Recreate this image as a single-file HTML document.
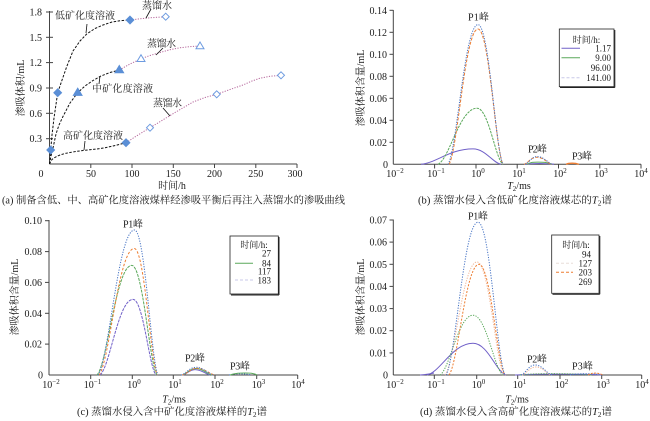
<!DOCTYPE html>
<html><head><meta charset="utf-8">
<style>
html,body{margin:0;padding:0;background:#fff;}
svg{display:block;}
text{font-family:"Liberation Serif","Noto Serif CJK SC",serif;fill:#1a1a1a;}
</style></head>
<body>
<svg width="650" height="421" viewBox="0 0 650 421" xmlns="http://www.w3.org/2000/svg">
<rect width="650" height="421" fill="#fff"/>

<!-- ================= PANEL A ================= -->
<g stroke="#444" stroke-width="1" fill="none">
  <line x1="49.5" y1="11" x2="49.5" y2="164"/>
  <line x1="49.5" y1="164" x2="297" y2="164"/>
  <!-- y ticks -->
  <line x1="46" y1="12" x2="53" y2="12"/>
  <line x1="46" y1="37.3" x2="53" y2="37.3"/>
  <line x1="46" y1="62.6" x2="53" y2="62.6"/>
  <line x1="46" y1="88" x2="53" y2="88"/>
  <line x1="46" y1="113.3" x2="53" y2="113.3"/>
  <line x1="46" y1="138.7" x2="53" y2="138.7"/>
  <!-- x ticks -->
  <line x1="90.8" y1="164" x2="90.8" y2="168"/>
  <line x1="132" y1="164" x2="132" y2="168"/>
  <line x1="173.3" y1="164" x2="173.3" y2="168"/>
  <line x1="214.5" y1="164" x2="214.5" y2="168"/>
  <line x1="255.8" y1="164" x2="255.8" y2="168"/>
  <line x1="297" y1="164" x2="297" y2="168"/>
</g>
<g font-size="10" text-anchor="end">
  <text x="42" y="15.5">1.8</text>
  <text x="42" y="40.8">1.5</text>
  <text x="42" y="66.1">1.2</text>
  <text x="42" y="91.5">0.9</text>
  <text x="42" y="116.8">0.6</text>
  <text x="42" y="142.2">0.3</text>
</g>
<g font-size="10" text-anchor="middle">
  <text x="41" y="177">0</text>
  <text x="91" y="177">50</text>
  <text x="132" y="177">100</text>
  <text x="173.3" y="177">150</text>
  <text x="214.5" y="177">200</text>
  <text x="255.8" y="177">250</text>
  <text x="295" y="177">300</text>
  <text x="172" y="189">时间/h</text>
</g>
<text font-size="10" text-anchor="middle" transform="translate(24,88) rotate(-90)">渗吸体积/mL</text>

<!-- curves a -->
<g fill="none" stroke="#111" stroke-width="1" stroke-dasharray="2.5 1.5">
  <polyline points="49.5,164 50.2,157 50.7,150 52,135 54,118 57.7,92.7 61.7,81 66.7,66.7 73,51 80,41 86.7,34 95,28.5 103,25 112,22 120,20.7 130,20"/>
  <polyline points="49.5,164 51,156 53,148 56,134 59,125 62.7,117 70,103 77.7,92.7 85,86 93,80.5 101,76 110,72.5 119.3,70"/>
  <polyline points="49.5,164 50.5,162 52,159.5 54,158 57,156.3 60,155 65,153.5 70,152.5 77,151.3 83,150.5 90,149.7 97,149 105,147.8 113,146 120,144.3 126,142.7"/>
</g>
<g fill="none" stroke="#b5679b" stroke-width="1" stroke-dasharray="1.2 1.4">
  <polyline points="130,20 140,18.8 150,17.8 165.7,16.7"/>
  <polyline points="119.3,70 130,64 141,58.7 150,55.5 160,52.5 170,49.7 180,47.8 190,46.6 200,46"/>
  <polyline points="126,142.7 138,135 150,127.7 160,121.7 175,112.5 193,102 205,97.5 216.7,94.3 230,89.5 243,85 252,81 260,78.2 270,76.3 281,75.3"/>
</g>
<!-- markers a -->
<g fill="#5b8fd6" stroke="#5b8fd6" stroke-width="0.8">
  <polygon points="50.7,146 54.7,150 50.7,154 46.7,150"/>
  <polygon points="57.7,88.7 61.7,92.7 57.7,96.7 53.7,92.7"/>
  <polygon points="130,16 134,20 130,24 126,20"/>
  <polygon points="126,138.7 130,142.7 126,146.7 122,142.7"/>
  <polygon points="77.7,88 82.2,95.5 73.2,95.5"/>
  <polygon points="119.3,65.3 123.8,72.8 114.8,72.8"/>
</g>
<g fill="#fff" stroke="#6d9be0" stroke-width="1">
  <polygon points="165.7,13.2 169.2,16.7 165.7,20.2 162.2,16.7"/>
  <polygon points="141,54.7 145,61.5 137,61.5"/>
  <polygon points="200,42 204,48.8 196,48.8"/>
  <polygon points="150,124.2 153.5,127.7 150,131.2 146.5,127.7"/>
  <polygon points="216.7,90.8 220.2,94.3 216.7,97.8 213.2,94.3"/>
  <polygon points="281,71.8 284.5,75.3 281,78.8 277.5,75.3"/>
</g>
<!-- leaders a -->
<g stroke="#111" stroke-width="0.8">
  <line x1="87" y1="24" x2="86" y2="33"/>
  <line x1="151" y1="9" x2="146" y2="18"/>
  <line x1="163" y1="48" x2="156" y2="55"/>
  <line x1="100" y1="76" x2="99" y2="84"/>
  <line x1="163" y1="108" x2="170" y2="116"/>
  <line x1="85" y1="141" x2="84" y2="150"/>
</g>
<g font-size="10">
  <text x="55" y="19" textLength="60">低矿化度溶液</text>
  <text x="142" y="9" textLength="30">蒸馏水</text>
  <text x="147" y="47" textLength="29">蒸馏水</text>
  <text x="92" y="92" textLength="61">中矿化度溶液</text>
  <text x="153" y="106.5" textLength="29">蒸馏水</text>
  <text x="63" y="139" textLength="60">高矿化度溶液</text>
</g>
<text font-size="10.3" x="2" y="203.5" textLength="343" lengthAdjust="spacingAndGlyphs">(a) 制备含低、中、高矿化度溶液煤样经渗吸平衡后再注入蒸馏水的渗吸曲线</text>

<!-- ================= PANEL B ================= -->
<g stroke="#444" stroke-width="1" fill="none">
  <line x1="393.3" y1="10" x2="393.3" y2="164.3"/>
  <line x1="393.3" y1="164.3" x2="641" y2="164.3"/>
  <line x1="389.5" y1="10.3" x2="393.3" y2="10.3"/>
  <line x1="389.5" y1="32.3" x2="393.3" y2="32.3"/>
  <line x1="389.5" y1="54.3" x2="393.3" y2="54.3"/>
  <line x1="389.5" y1="76.3" x2="393.3" y2="76.3"/>
  <line x1="389.5" y1="98.3" x2="393.3" y2="98.3"/>
  <line x1="389.5" y1="120.3" x2="393.3" y2="120.3"/>
  <line x1="389.5" y1="142.3" x2="393.3" y2="142.3"/>
  <line x1="434.6" y1="164.3" x2="434.6" y2="168.5"/>
  <line x1="476" y1="164.3" x2="476" y2="168.5"/>
  <line x1="517.2" y1="164.3" x2="517.2" y2="168.5"/>
  <line x1="558.5" y1="164.3" x2="558.5" y2="168.5"/>
  <line x1="599.8" y1="164.3" x2="599.8" y2="168.5"/>
  <line x1="641" y1="164.3" x2="641" y2="168.5"/>
</g>
<g font-size="10" text-anchor="end">
  <text x="387" y="13.8">0.14</text>
  <text x="387" y="35.8">0.12</text>
  <text x="387" y="57.8">0.10</text>
  <text x="387" y="79.8">0.08</text>
  <text x="387" y="101.8">0.06</text>
  <text x="387" y="123.8">0.04</text>
  <text x="387" y="145.8">0.02</text>
  <text x="388" y="167.8">0</text>
</g>
<g font-size="10" text-anchor="middle">
  <text x="395" y="177">10<tspan font-size="7" dy="-4">−2</tspan></text>
  <text x="436" y="177">10<tspan font-size="7" dy="-4">−1</tspan></text>
  <text x="478" y="177">10<tspan font-size="7" dy="-4">0</tspan></text>
  <text x="519" y="177">10<tspan font-size="7" dy="-4">1</tspan></text>
  <text x="560" y="177">10<tspan font-size="7" dy="-4">2</tspan></text>
  <text x="601" y="177">10<tspan font-size="7" dy="-4">3</tspan></text>
  <text x="641" y="177">10<tspan font-size="7" dy="-4">4</tspan></text>
  <text x="519" y="189"><tspan font-style="italic">T</tspan><tspan font-size="7" dy="2">2</tspan><tspan dy="-2">/ms</tspan></text>
</g>
<text font-size="10" text-anchor="middle" transform="translate(364,88) rotate(-90)">渗吸体积含量/mL</text>
<g fill="none" stroke-width="1">
  <path d="M421,164.3 C436.6,162.8 449.6,148.9 473,148.9 C485.6,148.9 492.6,162.8 501,164.3" stroke="#7060c8"/>
  <path d="M438,164.3 C449.7,158.7 459.5,108.2 477,108.2 C488.7,108.2 495.2,158.7 503,164.3" stroke="#5aa85a" stroke-dasharray="2.5 1"/>
  <path d="M449,164.3 C457.7,150.8 465,29 478,29 C489.3,29 495.5,150.8 503,164.3" stroke="#ed7d31" stroke-dasharray="3 1.5"/>
  <path d="M448,164.3 C457,150.3 464.5,24.6 478,24.6 C489.3,24.6 495.5,150.3 503,164.3" stroke="#4472c4" stroke-dasharray="1.2 1.3"/>
  <path d="M526,164.3 C530,163.2 548,163.2 554,164.3" stroke="#7060c8"/>
  <path d="M527,164.3 C531,162.1 533,162.1 538,162.1 C543,162.1 547,162.1 552,164.3" stroke="#5aa85a"/>
  <path d="M524,164.3 C527.6,163.6 530.6,157.2 537,157.2 C543.8,157.2 547.5,163.6 552,164.3" stroke="#ed7d31" stroke-dasharray="3 1.5"/>
  <path d="M525,164.3 C528.6,163.5 531.6,156.6 537,156.6 C544.2,156.6 548.2,163.5 553,164.3" stroke="#4472c4" stroke-dasharray="1.2 1.3"/>
  <path d="M566,164.3 C569,162.8 575,162.8 579,164.3" stroke="#ed7d31" stroke-width="1.3"/>
</g>
<g font-size="10">
  <text x="468" y="20.5" textLength="21">P1峰</text>
  <text x="528" y="152.5" textLength="19">P2峰</text>
  <text x="572" y="159.5" textLength="20">P3峰</text>
</g>
<!-- legend b -->
<rect x="559.3" y="29" width="54.7" height="57.7" fill="#fff" stroke="#222" stroke-width="0.8"/>
<line x1="614.8" y1="30" x2="614.8" y2="87.5" stroke="#222" stroke-width="1"/>
<line x1="560" y1="87.5" x2="614.8" y2="87.5" stroke="#222" stroke-width="1"/>
<g stroke-width="1">
  <line x1="561.5" y1="48.3" x2="580" y2="48.3" stroke="#7060c8"/>
  <line x1="561.5" y1="57.7" x2="580" y2="57.7" stroke="#5aa85a"/>
  <line x1="561.5" y1="77.7" x2="580" y2="77.7" stroke="#c8c8e8" stroke-dasharray="3 2"/>
</g>
<g font-size="9">
  <text x="586.5" y="43" text-anchor="middle">时间/h:</text>
  <text x="611" y="51.5" text-anchor="end">1.17</text>
  <text x="611" y="61" text-anchor="end">9.00</text>
  <text x="611" y="71" text-anchor="end">96.00</text>
  <text x="611" y="81" text-anchor="end">141.00</text>
</g>
<text font-size="10.3" x="418" y="203.5" textLength="194" lengthAdjust="spacingAndGlyphs">(b) 蒸馏水侵入含低矿化度溶液煤芯的<tspan font-style="italic">T</tspan><tspan font-size="7" dy="2">2</tspan><tspan dy="-2">谱</tspan></text>

<!-- ================= PANEL C ================= -->
<g stroke="#444" stroke-width="1" fill="none">
  <line x1="49" y1="220" x2="49" y2="375"/>
  <line x1="49" y1="375" x2="297.7" y2="375"/>
  <line x1="45" y1="220.7" x2="49" y2="220.7"/>
  <line x1="45" y1="251.6" x2="49" y2="251.6"/>
  <line x1="45" y1="282.4" x2="49" y2="282.4"/>
  <line x1="45" y1="313.3" x2="49" y2="313.3"/>
  <line x1="45" y1="344.1" x2="49" y2="344.1"/>
  <line x1="90.7" y1="375" x2="90.7" y2="379"/>
  <line x1="132.3" y1="375" x2="132.3" y2="379"/>
  <line x1="173.3" y1="375" x2="173.3" y2="379"/>
  <line x1="215" y1="375" x2="215" y2="379"/>
  <line x1="256.7" y1="375" x2="256.7" y2="379"/>
  <line x1="297.7" y1="375" x2="297.7" y2="379"/>
</g>
<g font-size="10" text-anchor="end">
  <text x="42" y="224.2">0.10</text>
  <text x="42" y="255.1">0.08</text>
  <text x="42" y="285.9">0.06</text>
  <text x="42" y="316.8">0.04</text>
  <text x="42" y="347.6">0.02</text>
  <text x="43" y="378.5">0</text>
</g>
<g font-size="10" text-anchor="middle">
  <text x="51" y="388">10<tspan font-size="7" dy="-4">−2</tspan></text>
  <text x="92.5" y="388">10<tspan font-size="7" dy="-4">−1</tspan></text>
  <text x="134" y="388">10<tspan font-size="7" dy="-4">0</tspan></text>
  <text x="175" y="388">10<tspan font-size="7" dy="-4">1</tspan></text>
  <text x="217" y="388">10<tspan font-size="7" dy="-4">2</tspan></text>
  <text x="258.5" y="388">10<tspan font-size="7" dy="-4">3</tspan></text>
  <text x="298" y="388">10<tspan font-size="7" dy="-4">4</tspan></text>
  <text x="174" y="402.5"><tspan font-style="italic">T</tspan><tspan font-size="7" dy="2">2</tspan><tspan dy="-2">/ms</tspan></text>
</g>
<text font-size="10" text-anchor="middle" transform="translate(18,297) rotate(-90)">渗吸体积含量/mL</text>
<g fill="none" stroke-width="1">
  <path d="M100,375 C109.9,367.4 118.2,299.4 133,299.4 C143.4,299.4 149.1,367.4 156,375" stroke="#7060c8" stroke-dasharray="3 1"/>
  <path d="M97,375 C107.4,364 116.1,265.4 131.7,265.4 C143.1,265.4 149.4,364 157,375" stroke="#5aa85a" stroke-dasharray="3 1"/>
  <path d="M99,375 C109.6,362.4 118.4,248.5 134.3,248.5 C144.7,248.5 150.5,362.4 157.5,375" stroke="#ed7d31" stroke-dasharray="2.5 1.8"/>
  <path d="M98,375 C109,360.5 118.1,230 134.5,230 C145.1,230 151,360.5 158,375" stroke="#4472c4" stroke-dasharray="1.2 1.4"/>
  <path d="M183,375 C186.6,374.4 189.2,369.6 195,369.6 C201.8,369.6 206,374.4 210,375" stroke="#7060c8"/>
  <path d="M182,375 C186.2,374.3 189.7,368.5 196,368.5 C203.2,368.5 207.2,374.3 212,375" stroke="#5aa85a"/>
  <path d="M182,375 C186.5,374.3 190.3,368.3 197,368.3 C205.1,368.3 209.6,374.3 215,375" stroke="#ed7d31" stroke-dasharray="2.5 1.5"/>
  <path d="M181,375 C185.5,374.2 189.3,367.3 196,367.3 C203.7,367.3 208.2,374.2 213,375" stroke="#4472c4" stroke-dasharray="1.2 1.3"/>
  <path d="M229,375 C234,373.4 246,373.4 251,375" stroke="#4472c4" stroke-dasharray="1.2 1.3"/>
  <path d="M230,375 C236,373 240,373 245,373 C250,373 253,373 257,375" stroke="#5aa85a"/>
</g>
<g font-size="10">
  <text x="123" y="227.5" textLength="20">P1峰</text>
  <text x="185" y="361.5" textLength="20">P2峰</text>
  <text x="230" y="369.5" textLength="20">P3峰</text>
</g>
<!-- legend c -->
<rect x="230" y="236" width="48.3" height="58" fill="#fff" stroke="#222" stroke-width="0.8"/>
<line x1="279" y1="237" x2="279" y2="295" stroke="#222" stroke-width="1"/>
<line x1="231" y1="295" x2="279" y2="295" stroke="#222" stroke-width="1"/>
<line x1="235" y1="263.3" x2="253" y2="263.3" stroke="#5aa85a" stroke-width="1"/>
<line x1="235" y1="280" x2="253" y2="280" stroke="#c8c8e8" stroke-width="1" stroke-dasharray="3 2"/>
<g font-size="9">
  <text x="254" y="248" text-anchor="middle">时间/h:</text>
  <text x="271" y="256.5" text-anchor="end">27</text>
  <text x="271" y="266.5" text-anchor="end">84</text>
  <text x="271" y="274.5" text-anchor="end">117</text>
  <text x="271" y="283.5" text-anchor="end">183</text>
</g>
<text font-size="10.3" x="77" y="415" textLength="190" lengthAdjust="spacingAndGlyphs">(c) 蒸馏水侵入含中矿化度溶液煤样的<tspan font-style="italic">T</tspan><tspan font-size="7" dy="2">2</tspan><tspan dy="-2">谱</tspan></text>

<!-- ================= PANEL D ================= -->
<g stroke="#444" stroke-width="1" fill="none">
  <line x1="393.3" y1="219.5" x2="393.3" y2="375"/>
  <line x1="393.3" y1="375" x2="641.7" y2="375"/>
  <line x1="389.5" y1="220" x2="393.3" y2="220"/>
  <line x1="389.5" y1="242.1" x2="393.3" y2="242.1"/>
  <line x1="389.5" y1="264.3" x2="393.3" y2="264.3"/>
  <line x1="389.5" y1="286.4" x2="393.3" y2="286.4"/>
  <line x1="389.5" y1="308.6" x2="393.3" y2="308.6"/>
  <line x1="389.5" y1="330.7" x2="393.3" y2="330.7"/>
  <line x1="389.5" y1="352.9" x2="393.3" y2="352.9"/>
  <line x1="434.3" y1="375" x2="434.3" y2="379"/>
  <line x1="476.7" y1="375" x2="476.7" y2="379"/>
  <line x1="517.7" y1="375" x2="517.7" y2="379"/>
  <line x1="560" y1="375" x2="560" y2="379"/>
  <line x1="601.7" y1="375" x2="601.7" y2="379"/>
  <line x1="641.7" y1="375" x2="641.7" y2="379"/>
</g>
<g font-size="10" text-anchor="end">
  <text x="387" y="223.5">0.07</text>
  <text x="387" y="245.6">0.06</text>
  <text x="387" y="267.8">0.05</text>
  <text x="387" y="289.9">0.04</text>
  <text x="387" y="312.1">0.03</text>
  <text x="387" y="334.2">0.02</text>
  <text x="387" y="356.4">0.01</text>
  <text x="388" y="378.5">0</text>
</g>
<g font-size="10" text-anchor="middle">
  <text x="395" y="388">10<tspan font-size="7" dy="-4">−2</tspan></text>
  <text x="436" y="388">10<tspan font-size="7" dy="-4">−1</tspan></text>
  <text x="478.5" y="388">10<tspan font-size="7" dy="-4">0</tspan></text>
  <text x="519.5" y="388">10<tspan font-size="7" dy="-4">1</tspan></text>
  <text x="561.5" y="388">10<tspan font-size="7" dy="-4">2</tspan></text>
  <text x="603" y="388">10<tspan font-size="7" dy="-4">3</tspan></text>
  <text x="642" y="388">10<tspan font-size="7" dy="-4">4</tspan></text>
  <text x="517" y="402.5"><tspan font-style="italic">T</tspan><tspan font-size="7" dy="2">2</tspan><tspan dy="-2">/ms</tspan></text>
</g>
<text font-size="10" text-anchor="middle" transform="translate(364,297) rotate(-90)">渗吸体积含量/mL</text>
<g fill="none" stroke-width="1">
  <path d="M420,375 C425,374.6 430,374 434,373" stroke="#7060c8"/>
  <path d="M427,375 C440.8,371.8 452.3,343.3 473,343.3 C487.9,343.3 496.1,371.8 506,375" stroke="#7060c8"/>
  <path d="M440,375 C449.9,369 458.2,315.2 473,315.2 C486.5,315.2 494,369 503,375" stroke="#5aa85a" stroke-dasharray="1.3 1.3"/>
  <path d="M445,375 C454.6,363.7 462.6,262 477,262 C489.2,262 495.9,363.7 504,375" stroke="#f2b99a" stroke-dasharray="1.3 1.3"/>
  <path d="M449,375 C458,363.9 465.5,264.3 479,264.3 C490.7,264.3 497.2,363.9 505,375" stroke="#ed7d31" stroke-dasharray="2 1.5"/>
  <path d="M446,375 C455.6,359.7 463.6,222.2 478,222.2 C490.2,222.2 496.9,359.7 505,375" stroke="#4472c4" stroke-dasharray="1.2 1.4"/>
  <path d="M515,375 C530,373.8 590,373.8 602,375" stroke="#7060c8"/>
  <path d="M520,375 C535,373 575,373.5 592,375" stroke="#5aa85a" stroke-dasharray="1.3 1.3"/>
  <path d="M522,375 C526,374.3 529.5,367 536,367 C543,367 547,374.3 551,375" stroke="#f2b99a" stroke-dasharray="1.3 1.3"/>
  <path d="M521,375 C525.2,374 528.7,365 535,365 C542.7,365 546.9,374 552,375" stroke="#4472c4" stroke-dasharray="1.2 1.4"/>
  <path d="M570,375 C578,373.3 595,373.3 602,375" stroke="#4472c4" stroke-dasharray="1.2 1.4"/>
  <path d="M588,375 C592,372.5 598,372.5 603,375" stroke="#ed7d31" stroke-dasharray="2 1.2"/>
</g>
<g font-size="10">
  <text x="468" y="219.5" textLength="20">P1峰</text>
  <text x="527" y="362.5" textLength="20">P2峰</text>
  <text x="572" y="369.5" textLength="21">P3峰</text>
</g>
<!-- legend d -->
<rect x="551.7" y="235" width="47.3" height="58.3" fill="#fff" stroke="#222" stroke-width="0.8"/>
<line x1="599.8" y1="236" x2="599.8" y2="294.2" stroke="#222" stroke-width="1"/>
<line x1="552.5" y1="294.2" x2="599.8" y2="294.2" stroke="#222" stroke-width="1"/>
<line x1="556" y1="263.3" x2="573" y2="263.3" stroke="#e8ddd8" stroke-width="1" stroke-dasharray="3 2"/>
<line x1="556" y1="272.3" x2="573" y2="272.3" stroke="#ed7d31" stroke-width="1" stroke-dasharray="3 2"/>
<g font-size="9">
  <text x="576" y="248" text-anchor="middle">时间/h:</text>
  <text x="591" y="257.5" text-anchor="end">94</text>
  <text x="592" y="266.5" text-anchor="end">127</text>
  <text x="592" y="275.5" text-anchor="end">203</text>
  <text x="592" y="285" text-anchor="end">269</text>
</g>
<text font-size="10.3" x="420" y="415" textLength="192" lengthAdjust="spacingAndGlyphs">(d) 蒸馏水侵入含高矿化度溶液煤芯的<tspan font-style="italic">T</tspan><tspan font-size="7" dy="2">2</tspan><tspan dy="-2">谱</tspan></text>
</svg>
</body></html>
